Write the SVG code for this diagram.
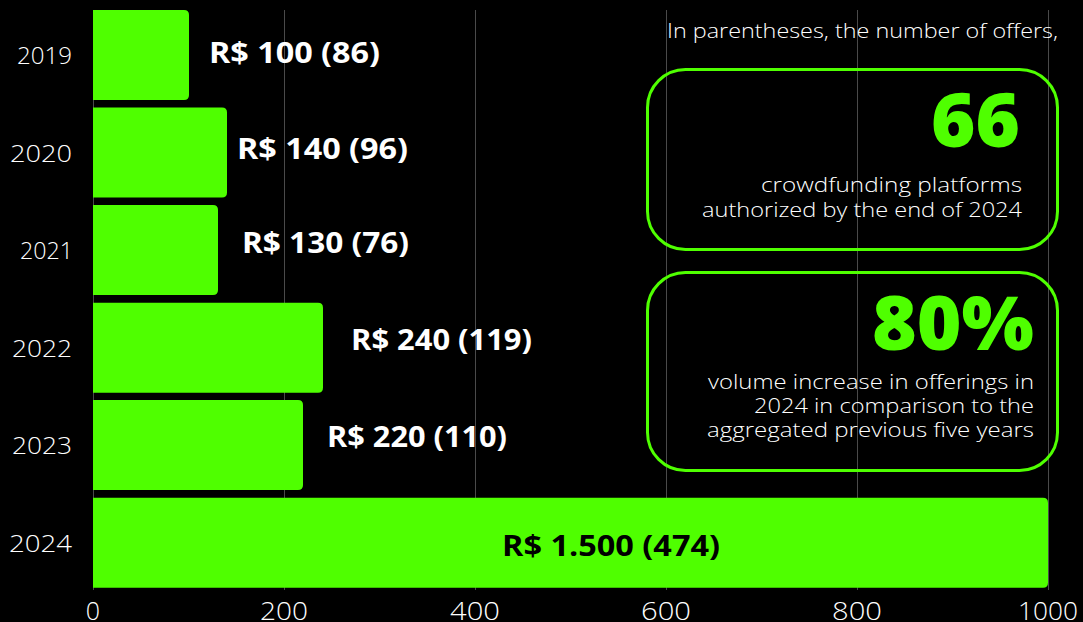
<svg xmlns="http://www.w3.org/2000/svg" width="1083" height="622" viewBox="0 0 1083 622">
  <style>
    .grid { stroke: #4a4a4a; stroke-width: 1; }
    .bar { fill: #4fff00; }
    .year { font-family: "Open Sans", "Liberation Sans", sans-serif; font-weight: 300; font-size: 24px; fill: #ffffff; text-anchor: end; }
    .tick { font-family: "Open Sans", "Liberation Sans", sans-serif; font-weight: 300; font-size: 25px; fill: #ffffff; text-anchor: middle; }
    .val { font-family: "Open Sans", "Liberation Sans", sans-serif; font-weight: 700; font-size: 28px; fill: #ffffff; }
    .val-in { fill: #000000; }
    .note { font-family: "Open Sans", "Liberation Sans", sans-serif; font-weight: 300; font-size: 21px; fill: #ffffff; text-anchor: end; }
    .big { font-family: "Open Sans", "Liberation Sans", sans-serif; font-weight: 800; font-size: 75px; fill: #4fff00; text-anchor: end; }
    .card { fill: none; stroke: #4fff00; stroke-width: 3; }
  </style>

  <rect width="1083" height="622" fill="#000000"/>

  <!-- vertical grid -->
  <g id="grid">
    <line class="grid" x1="93.5" y1="10" x2="93.5" y2="590"/>
    <line class="grid" x1="284.5" y1="10" x2="284.5" y2="590"/>
    <line class="grid" x1="475.5" y1="10" x2="475.5" y2="590"/>
    <line class="grid" x1="666.5" y1="10" x2="666.5" y2="590"/>
    <line class="grid" x1="857.5" y1="10" x2="857.5" y2="590"/>
    <line class="grid" x1="1048.5" y1="10" x2="1048.5" y2="590"/>
  </g>

  <!-- bars: square on the axis side, rounded at the end -->
  <g id="bar-2019">
    <path class="bar" d="M93 10 H184 Q189 10 189 15 V95 Q189 100 184 100 H93 Z"/>
    <text class="year" x="72" y="64" textLength="55" lengthAdjust="spacingAndGlyphs">2019</text>
    <text class="val" x="209" y="63" textLength="171" lengthAdjust="spacingAndGlyphs">R$ 100 (86)</text>
  </g>
  <g id="bar-2020">
    <path class="bar" d="M93 107.5 H222 Q227 107.5 227 112.5 V192.5 Q227 197.5 222 197.5 H93 Z"/>
    <text class="year" x="72" y="161.5" textLength="62" lengthAdjust="spacingAndGlyphs">2020</text>
    <text class="val" x="237" y="159" textLength="171" lengthAdjust="spacingAndGlyphs">R$ 140 (96)</text>
  </g>
  <g id="bar-2021">
    <path class="bar" d="M93 205 H213 Q218 205 218 210 V290 Q218 295 213 295 H93 Z"/>
    <text class="year" x="73" y="259" textLength="53" lengthAdjust="spacingAndGlyphs">2021</text>
    <text class="val" x="242" y="253" textLength="167" lengthAdjust="spacingAndGlyphs">R$ 130 (76)</text>
  </g>
  <g id="bar-2022">
    <path class="bar" d="M93 302.7 H318 Q323 302.7 323 307.7 V387.7 Q323 392.7 318 392.7 H93 Z"/>
    <text class="year" x="72" y="356.7" textLength="60" lengthAdjust="spacingAndGlyphs">2022</text>
    <text class="val" x="351" y="350" textLength="181" lengthAdjust="spacingAndGlyphs">R$ 240 (119)</text>
  </g>
  <g id="bar-2023">
    <path class="bar" d="M93 400 H298 Q303 400 303 405 V485 Q303 490 298 490 H93 Z"/>
    <text class="year" x="72" y="454" textLength="60" lengthAdjust="spacingAndGlyphs">2023</text>
    <text class="val" x="327" y="447" textLength="180" lengthAdjust="spacingAndGlyphs">R$ 220 (110)</text>
  </g>
  <g id="bar-2024">
    <path class="bar" d="M93 497.7 H1043 Q1048 497.7 1048 502.7 V582.7 Q1048 587.7 1043 587.7 H93 Z"/>
    <text class="year" x="72" y="551.7" textLength="63" lengthAdjust="spacingAndGlyphs">2024</text>
    <text class="val val-in" x="502" y="556" textLength="218" lengthAdjust="spacingAndGlyphs">R$ 1.500 (474)</text>
  </g>

  <!-- x axis values -->
  <g id="axis">
    <text class="tick" x="93" y="620">0</text>
    <text class="tick" x="284" y="620" textLength="48" lengthAdjust="spacingAndGlyphs">200</text>
    <text class="tick" x="475" y="620" textLength="50" lengthAdjust="spacingAndGlyphs">400</text>
    <text class="tick" x="666" y="620" textLength="50" lengthAdjust="spacingAndGlyphs">600</text>
    <text class="tick" x="857" y="620" textLength="50" lengthAdjust="spacingAndGlyphs">800</text>
    <text class="tick" x="1048" y="620" textLength="60" lengthAdjust="spacingAndGlyphs">1000</text>
  </g>

  <g id="note">
    <text class="note" x="1058" y="38" textLength="391" lengthAdjust="spacingAndGlyphs">In parentheses, the number of offers,</text>
  </g>

  <!-- highlight cards -->
  <g id="card-platforms">
    <rect class="card" x="647.5" y="69.5" width="410" height="180" rx="38" ry="38"/>
    <text class="big" x="1020" y="147" textLength="89" lengthAdjust="spacingAndGlyphs">66</text>
    <text class="note" x="1022" y="192" textLength="261" lengthAdjust="spacingAndGlyphs">crowdfunding platforms</text>
    <text class="note" x="1022" y="217" textLength="320" lengthAdjust="spacingAndGlyphs">authorized by the end of 2024</text>
  </g>
  <g id="card-volume">
    <rect class="card" x="647.5" y="272.5" width="410" height="198" rx="38" ry="38"/>
    <text class="big" x="1034" y="350" textLength="162" lengthAdjust="spacingAndGlyphs">80%</text>
    <text class="note" x="1034" y="389" textLength="326" lengthAdjust="spacingAndGlyphs">volume increase in offerings in</text>
    <text class="note" x="1034" y="413" textLength="280" lengthAdjust="spacingAndGlyphs">2024 in comparison to the</text>
    <text class="note" x="1034" y="437" textLength="327" lengthAdjust="spacingAndGlyphs">aggregated previous five years</text>
  </g>
</svg>
